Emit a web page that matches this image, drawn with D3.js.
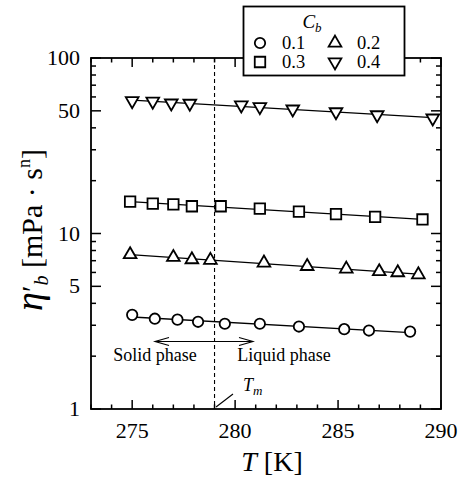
<!DOCTYPE html>
<html><head><meta charset="utf-8">
<script src="https://cdn.jsdelivr.net/npm/d3@7"></script>
<style>body{margin:0;background:#fff}svg{display:block}text{font-family:"Liberation Serif","DejaVu Serif",serif;fill:#000}</style>
</head><body><svg id="c" width="459" height="482"></svg>
<script>
// ---- data ----
const seriesNames = ["0.1", "0.2", "0.3", "0.4"];
const symbolsKind = ["circle", "triUp", "square", "triDown"];
const temps01 = [275.0, 276.1, 277.2, 278.2, 279.5, 281.2, 283.1, 285.3, 286.5, 288.5];
const vals01  = [3.44, 3.27, 3.23, 3.14, 3.06, 3.06, 2.95, 2.85, 2.80, 2.76];
const temps02 = [274.9, 277.0, 277.9, 278.8, 281.4, 283.5, 285.4, 287.0, 287.9, 288.9];
const vals02  = [7.59, 7.32, 7.10, 7.04, 6.80, 6.50, 6.28, 6.07, 5.99, 5.83];
const temps03 = [274.9, 276.0, 277.0, 277.9, 279.3, 281.2, 283.1, 284.9, 286.8, 289.1];
const vals03  = [15.2, 14.8, 14.65, 14.3, 14.3, 13.86, 13.31, 12.89, 12.45, 12.02];
const temps04 = [275.0, 276.0, 276.9, 277.8, 280.3, 281.2, 282.8, 284.9, 286.9, 289.6];
const vals04  = [57.0, 56.6, 55.3, 55.1, 53.9, 52.7, 51.1, 49.3, 47.4, 45.4];
const xTickLabels = [275, 280, 285, 290];
const yTickLabels = [1, 5, 10, 50, 100];
const meltT = 279;

const allTemps = [temps01, temps02, temps03, temps04];
const allVals = [vals01, vals02, vals03, vals04];

// ---- layout ----
const L = 91, R = 441, T = 58, B = 409;
const svg = d3.select("#c");
const x = d3.scaleLinear().domain([273, 290]).range([L, R]);
const y = d3.scaleLog().domain([1, 100]).range([B, T]);

// frame
svg.append("rect").attr("x", L).attr("y", T).attr("width", R - L).attr("height", B - T)
  .attr("fill", "none").attr("stroke", "#000").attr("stroke-width", 1.8);

// x ticks (inward, bottom and top)
const xt = d3.range(273, 291);
xt.forEach(t => {
  const len = (t % 5 === 0) ? 9 : 4.5;
  svg.append("line").attr("x1", x(t)).attr("x2", x(t)).attr("y1", B).attr("y2", B - len).attr("stroke", "#000").attr("stroke-width", 1.5);
  svg.append("line").attr("x1", x(t)).attr("x2", x(t)).attr("y1", T).attr("y2", T + len).attr("stroke", "#000").attr("stroke-width", 1.5);
});
svg.append("g").selectAll("text").data(xTickLabels).join("text")
  .attr("x", d => x(d)).attr("y", 438).attr("text-anchor", "middle").attr("font-size", 22).text(d => d);

// y ticks
const yt = [];
[1, 10].forEach(dec => { for (let k = 1; k <= 9; k++) yt.push(dec * k); });
yt.push(100);
yt.forEach(v => {
  const major = yTickLabels.includes(v);
  const len = major ? 10 : 5;
  svg.append("line").attr("x1", L).attr("x2", L + len).attr("y1", y(v)).attr("y2", y(v)).attr("stroke", "#000").attr("stroke-width", 1.5);
  svg.append("line").attr("x1", R).attr("x2", R - len).attr("y1", y(v)).attr("y2", y(v)).attr("stroke", "#000").attr("stroke-width", 1.5);
});
svg.append("g").selectAll("text").data(yTickLabels).join("text")
  .attr("x", 80).attr("y", d => y(d) + 7).attr("text-anchor", "end").attr("font-size", 22).text(d => d);

// melting line
svg.append("line").attr("x1", x(meltT)).attr("x2", x(meltT)).attr("y1", T).attr("y2", B)
  .attr("stroke", "#000").attr("stroke-width", 1.1).attr("stroke-dasharray", "4,3");

// symbols
function symPath(kind) {
  if (kind === "circle") return d3.symbol(d3.symbolCircle, 85)();
  if (kind === "square") return d3.symbol(d3.symbolSquare, 110)();
  return d3.symbol(d3.symbolTriangle, 70)();
}
function addSym(g, kind, cx, cy) {
  const rot = kind === "triDown" ? " rotate(180)" : "";
  g.append("path").attr("d", symPath(kind)).attr("transform", `translate(${cx},${cy})${rot}`)
    .attr("fill", "#fff").attr("stroke", "#000").attr("stroke-width", 1.8);
}

// fit lines and markers
allTemps.forEach((ts, i) => {
  const vs = allVals[i];
  const lv = vs.map(Math.log10);
  const mx = d3.mean(ts), my = d3.mean(lv);
  const b = d3.sum(ts.map((t, j) => (t - mx) * (lv[j] - my))) / d3.sum(ts.map(t => (t - mx) ** 2));
  const a = my - b * mx;
  const t0 = d3.min(ts), t1 = d3.max(ts);
  svg.append("line").attr("x1", x(t0)).attr("y1", y(10 ** (a + b * t0)))
    .attr("x2", x(t1)).attr("y2", y(10 ** (a + b * t1))).attr("stroke", "#000").attr("stroke-width", 1.3);
  const g = svg.append("g");
  ts.forEach((t, j) => addSym(g, symbolsKind[i], x(t), y(vs[j])));
});

// phase arrow
const ay = 341.5;
svg.append("line").attr("x1", 155).attr("x2", 253).attr("y1", ay).attr("y2", ay).attr("stroke", "#000").attr("stroke-width", 1.1);
svg.append("path").attr("d", `M${155 + 14},${ay - 4} L155,${ay} L${155 + 14},${ay + 4}`).attr("fill", "none").attr("stroke", "#000").attr("stroke-width", 1.1);
svg.append("path").attr("d", `M${253 - 14},${ay - 4} L253,${ay} L${253 - 14},${ay + 4}`).attr("fill", "none").attr("stroke", "#000").attr("stroke-width", 1.1);
svg.append("text").attr("x", 155).attr("y", 361).attr("text-anchor", "middle").attr("font-size", 18).text("Solid phase");
svg.append("text").attr("x", 284).attr("y", 361).attr("text-anchor", "middle").attr("font-size", 18).text("Liquid phase");

// Tm annotation
svg.append("line").attr("x1", x(meltT) + 1.5).attr("y1", 407).attr("x2", 233).attr("y2", 394).attr("stroke", "#000").attr("stroke-width", 1.1);
const tm = svg.append("text").attr("x", 243).attr("y", 391).attr("font-size", 18).attr("font-style", "italic");
tm.append("tspan").text("T");
tm.append("tspan").attr("font-size", 13).attr("dy", 4).text("m");

// axis titles
const xl = svg.append("text").attr("x", 272).attr("y", 471).attr("text-anchor", "middle").attr("font-size", 28);
xl.append("tspan").attr("font-style", "italic").text("T");
xl.append("tspan").text(" [K]");

const yl = svg.append("text").attr("transform", "translate(42,230) rotate(-90)").attr("text-anchor", "middle").attr("font-size", 30);
yl.append("tspan").attr("font-style", "italic").attr("font-size", 38).text("η");
yl.append("tspan").text("′");
yl.append("tspan").attr("font-style", "italic").attr("font-size", 20).attr("dy", 6).text("b");
yl.append("tspan").attr("dy", -6).text(" [mPa · s");
yl.append("tspan").attr("font-size", 18).attr("dy", -12).text("n");
yl.append("tspan").attr("dy", 12).text("]");

// legend
const lg = svg.append("g");
lg.append("rect").attr("x", 243.5).attr("y", 6.5).attr("width", 161).attr("height", 69)
  .attr("fill", "#fff").attr("stroke", "#000").attr("stroke-width", 1.8);
const ct = lg.append("text").attr("x", 312).attr("y", 28).attr("text-anchor", "middle").attr("font-size", 19).attr("font-style", "italic");
ct.append("tspan").text("C");
ct.append("tspan").attr("font-size", 13).attr("dy", 4).text("b");
const legPos = [[260, 43], [335, 43], [260, 62], [335, 62]];
[0, 1, 2, 3].forEach((si) => {
  const p = legPos[si];
  addSym(lg, symbolsKind[si], p[0], p[1]);
  lg.append("text").attr("x", p[0] + 22).attr("y", p[1] + 6).attr("font-size", 18.5).text(seriesNames[si]);
});
</script></body></html>
